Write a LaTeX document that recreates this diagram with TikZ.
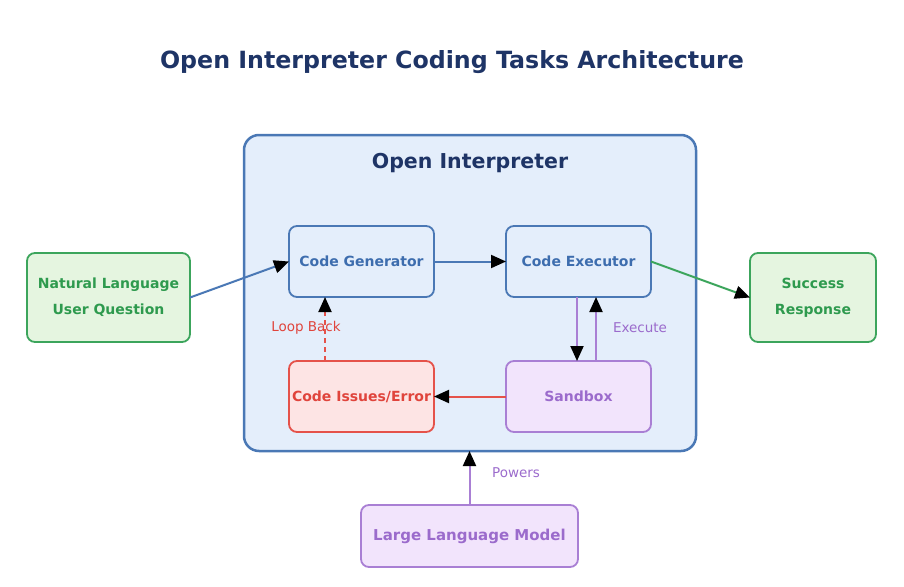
\documentclass[tikz,border=0pt]{standalone}
\usepackage{fontspec}
\setmainfont{DejaVu Sans}
\usetikzlibrary{calc,arrows.meta}

\definecolor{navy}{HTML}{1E3466}
\definecolor{bluel}{HTML}{4A78B5}
\definecolor{bluef}{HTML}{E4EEFB}
\definecolor{bluet}{HTML}{3D6DAE}
\definecolor{greenl}{HTML}{3CA55C}
\definecolor{greenf}{HTML}{E5F5E0}
\definecolor{greent}{HTML}{2E9A4E}
\definecolor{redl}{HTML}{E5524A}
\definecolor{redf}{HTML}{FDE4E4}
\definecolor{redt}{HTML}{E0443C}
\definecolor{purl}{HTML}{A97FD4}
\definecolor{purf}{HTML}{F2E4FC}
\definecolor{purt}{HTML}{9B6BCC}

\tikzset{
  blk/.style={draw, rounded corners=8, line width=1.8, outer sep=0, align=center, inner sep=2,
    font=\fontsize{14}{26}\selectfont\bfseries},
  tip/.style={-{Triangle[length=15,width=13,color=black,fill=black]}, line width=2},
  lbl/.style={font=\fontsize{13.5}{15}\selectfont}
}

\begin{document}
\begin{tikzpicture}[x=1pt,y=-1pt]
            \useasboundingbox (0,0) rectangle (904,586);
            \node (T) at (452,62) [text=navy, font=\fontsize{23.7}{28}\selectfont\bfseries] {Open Interpreter Coding Tasks Architecture};
            \node (OI) at (470,293) [draw=bluel, fill=bluef, line width=2.5, rounded corners=15, minimum width=452, minimum height=316, outer sep=0] {};
            \node (OIt) at (470,163) [text=navy, font=\fontsize{20.5}{24}\selectfont\bfseries] {Open Interpreter};
            % boxes inside
            \node (G) at (361.5,261.5) [blk, draw=bluel, fill=bluef, text=bluet, minimum width=145, minimum height=71] {Code Generator};
            \node (X) at (578.5,261.5) [blk, draw=bluel, fill=bluef, text=bluet, minimum width=145, minimum height=71] {Code Executor};
            \node (E) at (361.5,396.5) [blk, draw=redl, fill=redf, text=redt, minimum width=145, minimum height=71] {Code Issues/Error};
            \node (S) at (578.5,396.5) [blk, draw=purl, fill=purf, text=purt, minimum width=145, minimum height=71] {Sandbox};
            % outside
            \node (Q) at (108.5,297.5) [blk, draw=greenl, fill=greenf, text=greent, minimum width=163, minimum height=89] {Natural Language\\User Question};
            \node (R) at (813,297.5) [blk, draw=greenl, fill=greenf, text=greent, minimum width=126, minimum height=89] {Success\\Response};
            \node (L) at (469.5,536) [blk, draw=purl, fill=purf, text=purt, minimum width=217, minimum height=62, font=\fontsize{15}{20}\selectfont\bfseries] {Large Language Model};
            % arrows
            \draw [tip, draw=bluel] (Q.east) -- (G.west);
            \draw [tip, draw=bluel] (G.east) -- (X.west);
            \draw [tip, draw=greenl] (X.east) -- (R.west);
            \draw [tip, draw=purl] ($(X.south)+(-1.5,0)$) -- ($(S.north)+(-1.5,0)$);
            \draw [tip, draw=purl] ($(S.north)+(17.5,0)$) -- ($(X.south)+(17.5,0)$);
            \draw [tip, draw=redl] (S.west) -- (E.east);
            \draw [tip, draw=redl, dash pattern=on 5 off 4] ($(E.north)+(-36.5,0)$) -- ($(G.south)+(-36.5,0)$);
            \draw [tip, draw=purl] (L.north) -- (L.north |- OI.south);
            \node (lb) at (306,328) [lbl, text=redt] {Loop Back};
            \node (ex) at (640,328) [lbl, text=purt] {Execute};
            \node (pw) at (516,473) [lbl, text=purt] {Powers};
        \end{tikzpicture}
\end{document}
